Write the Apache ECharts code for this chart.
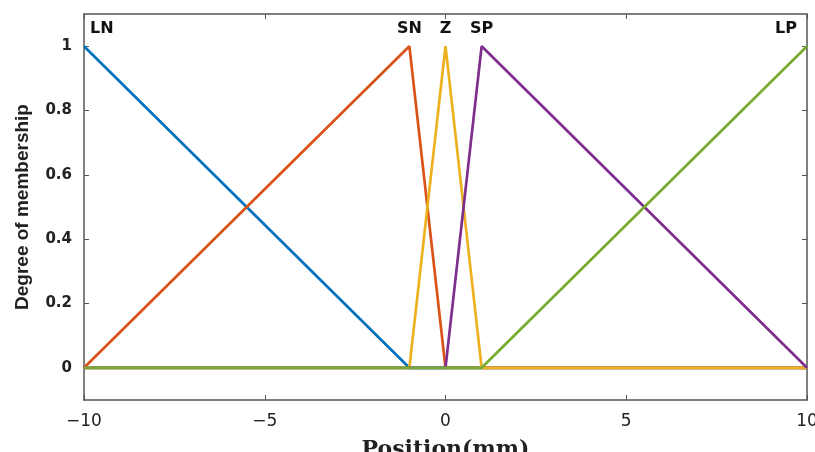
<!DOCTYPE html>
<html>
<head>
<meta charset="utf-8">
<script src="https://cdn.jsdelivr.net/npm/echarts@6/dist/echarts.min.js"></script>
<style>
  html, body { margin: 0; padding: 0; background: #ffffff; }
  #chart { width: 815px; height: 452px; }
</style>
</head>
<body>
<div id="chart"></div>
<script>
// Triangular membership functions over position (mm)
const mfNames  = ['LN', 'SN', 'Z', 'SP', 'LP'];
const mfColors = ['#0072BD', '#D95319', '#EDB120', '#7E2F8E', '#77AC30'];

const lnX = [-10, -1, 10];        const lnY = [1, 0, 0];
const snX = [-10, -1, 0, 10];     const snY = [0, 1, 0, 0];
const zX  = [-10, -1, 0, 1, 10];  const zY  = [0, 0, 1, 0, 0];
const spX = [-10, 0, 1, 10];      const spY = [0, 0, 1, 0];
const lpX = [-10, 1, 10];         const lpY = [0, 0, 1];

const xTicks = [-10, -5, 0, 5, 10];
const yTicks = [0, 0.2, 0.4, 0.6, 0.8, 1];

const mfX = [lnX, snX, zX, spX, lpX];
const mfY = [lnY, snY, zY, spY, lpY];

const axisGray = '#555555';
const tickFmtX = v => (v < 0 ? '\u2212' + Math.abs(v) : String(v));

function mfSeries(i) {
  return {
    type: 'line',
    name: mfNames[i],
    data: mfX[i].map((x, k) => [x, mfY[i][k]]),
    showSymbol: false,
    symbol: 'none',
    lineStyle: { color: mfColors[i], width: 2.7 },
    itemStyle: { color: mfColors[i] },
    emphasis: { disabled: true },
    z: 2 + i
  };
}

// Name of each function written just above its peak
const last = mfNames.length - 1;
const peakLabels = {
  type: 'scatter',
  name: 'labels',
  symbol: 'circle',
  symbolSize: 2,
  itemStyle: { color: 'rgba(0,0,0,0)' },
  silent: true,
  z: 10,
  labelLayout: { hideOverlap: false },
  data: mfNames.map((n, i) => {
    const k = mfY[i].indexOf(1);
    const align = i === 0 ? 'left' : (i === last ? 'right' : 'center');
    const dx = i === 0 ? 7 : (i === last ? -9 : 1);
    return {
      value: [mfX[i][k], mfY[i][k]],
      label: {
        show: true,
        formatter: n,
        position: [dx, -8],
        align: align,
        verticalAlign: 'bottom',
        fontFamily: 'DejaVu Sans',
        fontWeight: 'bold',
        fontSize: 16,
        color: '#111111',
        opacity: 1
      }
    };
  })
};

const chart = echarts.init(document.getElementById('chart'), null, { renderer: 'canvas' });
chart.setOption({
  backgroundColor: '#ffffff',
  animation: false,
  grid: { left: 84, right: 8, top: 14, bottom: 52, containLabel: false, outerBoundsMode: 'none' },
  xAxis: [
    {
      type: 'value', min: -10, max: 10, interval: 5,
      position: 'bottom',
      name: 'Position(mm)', nameLocation: 'middle', nameGap: 39,
      nameTextStyle: { fontFamily: 'DejaVu Serif', fontWeight: 'bold', fontSize: 22, color: '#222' },
      axisLine: { show: true, onZero: false, lineStyle: { color: axisGray, width: 1.5 } },
      axisTick: { show: true, inside: true, length: 5, lineStyle: { color: axisGray } },
      axisLabel: { margin: 13, fontFamily: 'DejaVu Sans', fontSize: 17, color: '#222', formatter: tickFmtX,
                   customValues: xTicks },
      splitLine: { show: false }
    },
    {
      type: 'value', min: -10, max: 10, interval: 5,
      position: 'top',
      axisLine: { show: true, onZero: false, lineStyle: { color: axisGray, width: 1.5 } },
      axisTick: { show: true, inside: true, length: 5, lineStyle: { color: axisGray } },
      axisLabel: { show: false },
      splitLine: { show: false }
    }
  ],
  yAxis: [
    {
      type: 'value', min: -0.1, max: 1.1,
      position: 'left',
      name: 'Degree of membership', nameLocation: 'middle', nameGap: 52,
      nameTextStyle: { fontFamily: 'Liberation Sans', fontWeight: 'bold', fontSize: 19, color: '#222' },
      axisLine: { show: true, onZero: false, lineStyle: { color: axisGray, width: 1.5 } },
      axisTick: { show: true, inside: true, length: 5, lineStyle: { color: axisGray }, customValues: yTicks },
      axisLabel: { margin: 12, fontFamily: 'DejaVu Sans', fontWeight: 'bold', fontSize: 15, color: '#222',
                   customValues: yTicks, formatter: v => String(Math.round(v * 10) / 10) },
      splitLine: { show: false }
    },
    {
      type: 'value', min: -0.1, max: 1.1,
      position: 'right',
      axisLine: { show: true, onZero: false, lineStyle: { color: axisGray, width: 1.5 } },
      axisTick: { show: true, inside: true, length: 5, lineStyle: { color: axisGray }, customValues: yTicks },
      axisLabel: { show: false },
      splitLine: { show: false }
    }
  ],
  series: mfNames.map((_, i) => mfSeries(i)).concat([peakLabels])
});
</script>
</body>
</html>
